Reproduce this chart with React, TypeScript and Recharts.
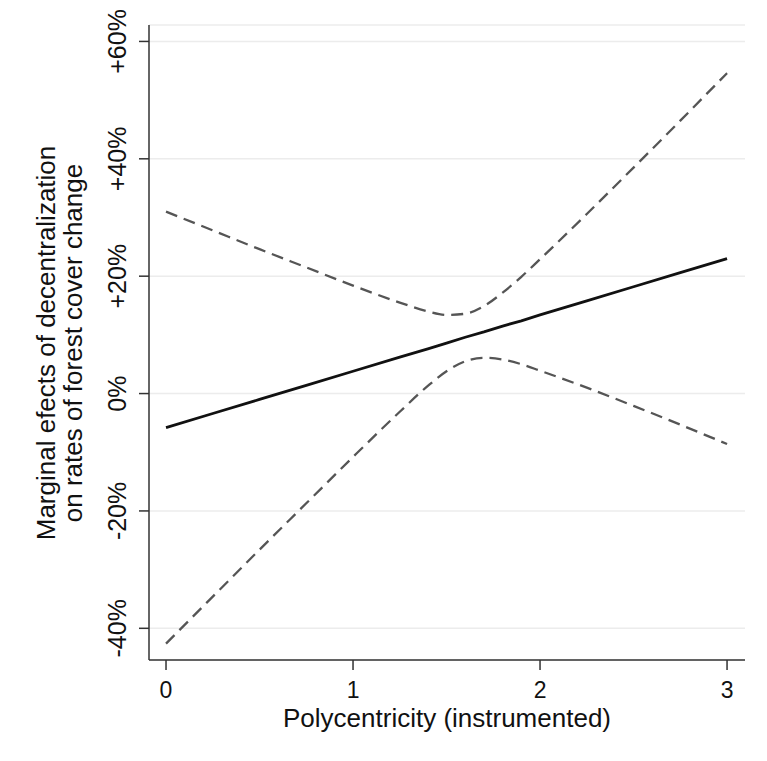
import React from "react";
import { LineChart, Line, XAxis, YAxis, CartesianGrid } from "recharts";

const xValues = [0, 0.25, 0.5, 0.75, 1, 1.25, 1.4, 1.5, 1.6, 1.7, 1.8, 1.9, 2, 2.25, 2.5, 2.75, 3];
const estimate = [-5.8, -3.4, -1.0, 1.4, 3.8, 6.2, 7.6, 8.6, 9.6, 10.5, 11.5, 12.4, 13.4, 15.8, 18.2, 20.6, 23.0];
const upperCI = [31.0, 27.8, 24.6, 21.5, 18.4, 15.5, 14.0, 13.4, 13.6, 14.9, 17.2, 19.9, 22.9, 30.6, 38.5, 46.5, 54.6];
const lowerCI = [-42.6, -34.6, -26.6, -18.7, -10.8, -3.1, 1.3, 3.8, 5.5, 6.1, 5.8, 5.0, 3.9, 1.0, -2.1, -5.3, -8.6];

const xTicks = [0, 1, 2, 3];
const yTicks = [-40, -20, 0, 20, 40, 60];

const xTitle = "Polycentricity (instrumented)";
const yTitle1 = "Marginal efects of decentralization";
const yTitle2 = "on rates of forest cover change";

const data = xValues.map((x, i) => ({
  x,
  est: estimate[i],
  hi: upperCI[i],
  lo: lowerCI[i],
}));

const FONT = '"Liberation Sans", Arial, Helvetica, sans-serif';
const TEXT = "#111";

const fmtY = (v: number) => (v > 0 ? `+${v}%` : `${v}%`);

const YTick = (props: any) => {
  const { x, y, payload } = props;
  const bx = x - 11;
  return (
    <text
      x={bx}
      y={y}
      transform={`rotate(-90, ${bx}, ${y})`}
      textAnchor="middle"
      style={{ fontSize: 25, fontFamily: FONT }}
      fill={TEXT}
    >
      {fmtY(payload.value)}
    </text>
  );
};

const XTick = (props: any) => {
  const { x, y, payload } = props;
  return (
    <text
      x={x}
      y={y}
      dy={26}
      textAnchor="middle"
      style={{ fontSize: 23, fontFamily: FONT }}
      fill={TEXT}
    >
      {payload.value}
    </text>
  );
};

const YTitle = () => (
  <g>
    <text
      transform="translate(55,343) rotate(-90)"
      textAnchor="middle"
      style={{ fontSize: 26, fontFamily: FONT }}
      fill={TEXT}
    >
      {yTitle1}
    </text>
    <text
      transform="translate(82,343) rotate(-90)"
      textAnchor="middle"
      style={{ fontSize: 26, fontFamily: FONT }}
      fill={TEXT}
    >
      {yTitle2}
    </text>
  </g>
);

const XTitle = () => (
  <text
    x={447}
    y={727}
    textAnchor="middle"
    style={{ fontSize: 26, fontFamily: FONT }}
    fill={TEXT}
  >
    {xTitle}
  </text>
);

export default function App() {
  return (
    <div style={{ position: "absolute", left: 0, top: 0, background: "#fff" }}>
      <LineChart
        width={767}
        height={761}
        data={data}
        margin={{ top: 25, right: 22, bottom: 0, left: 0 }}
      >
        <CartesianGrid vertical={false} stroke="#ececec" strokeWidth={1.5} />
        <XAxis
          dataKey="x"
          type="number"
          domain={[-0.091, 3.096]}
          ticks={xTicks}
          allowDataOverflow
          height={101}
          tickSize={10}
          tickMargin={2}
          stroke="#333"
          strokeWidth={1.5}
          tickLine={{ stroke: "#333", strokeWidth: 1.5 }}
          tick={<XTick />}
          label={{ content: () => <XTitle /> }}
        />
        <YAxis
          type="number"
          domain={[-45.4, 62.8]}
          ticks={yTicks}
          allowDataOverflow
          width={149}
          tickSize={10}
          tickMargin={2}
          stroke="#333"
          strokeWidth={1.5}
          tickLine={{ stroke: "#333", strokeWidth: 1.5 }}
          tick={<YTick />}
          label={{ content: () => <YTitle /> }}
        />
        <Line
          type="monotone"
          dataKey="hi"
          stroke="#555"
          strokeWidth={2.3}
          strokeDasharray="12 7"
          dot={false}
          isAnimationActive={false}
        />
        <Line
          type="monotone"
          dataKey="lo"
          stroke="#555"
          strokeWidth={2.3}
          strokeDasharray="12 7"
          dot={false}
          isAnimationActive={false}
        />
        <Line
          type="linear"
          dataKey="est"
          stroke="#111"
          strokeWidth={2.8}
          dot={false}
          isAnimationActive={false}
        />
      </LineChart>
    </div>
  );
}
